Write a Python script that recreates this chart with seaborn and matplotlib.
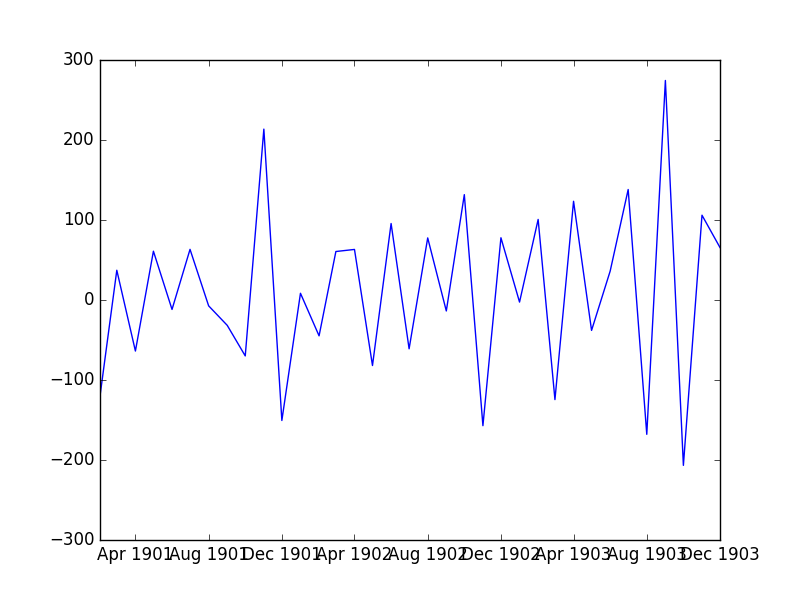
import matplotlib
matplotlib.use("Agg")
import matplotlib.pyplot as plt
import matplotlib.dates as mdates
import seaborn as sns
import pandas as pd

plt.style.use("classic")
dates = pd.date_range("1901-02-01", periods=35, freq="MS")
values = [-120.1, 37.2, -63.8, 61.0, -11.8, 63.3, -7.3, -31.7, -69.9, 213.6,
          -150.6, 8.4, -44.8, 60.6, 63.2, -81.9, 95.6, -61.0, 77.6, -13.7,
          131.7, -157.1, 77.8, -2.6, 100.7, -124.5, 123.4, -38.0, 36.1, 138.1,
          -167.9, 274.4, -206.7, 106.0, 65.6]
df = pd.DataFrame({"date": dates, "value": values})

fig, ax = plt.subplots(figsize=(8, 6), dpi=100)
fig.patch.set_facecolor("white")
sns.lineplot(data=df, x="date", y="value", ax=ax, color="blue", linewidth=1)
ax.set_xlim(dates[0], dates[-1])
ax.set_ylim(-300, 300)
ax.xaxis.set_major_locator(mdates.MonthLocator(bymonth=[4, 8, 12]))
ax.xaxis.set_major_formatter(mdates.DateFormatter("%b %Y"))
ax.set_xlabel("")
ax.set_ylabel("")
fig.savefig("out.png", dpi=100, facecolor="white")
